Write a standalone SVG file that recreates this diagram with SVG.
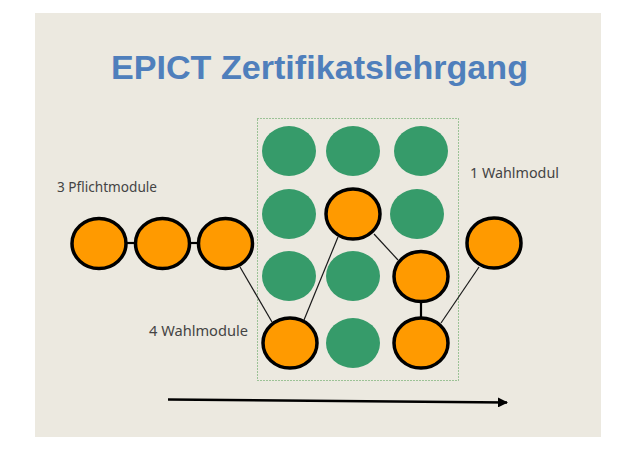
<svg xmlns="http://www.w3.org/2000/svg" width="638" height="451" viewBox="0 0 638 451">
<defs>
<style>
.bg{fill:#ffffff}
.panel{fill:#ECE9E0}
.title{font-family:"Liberation Sans",Arial,sans-serif;font-weight:bold;font-size:34px;fill:#4F7FBC}
.lbl{font-family:"Noto Sans","DejaVu Sans",sans-serif;font-size:13.5px;fill:#444444}
.g{fill:#369B6A}
.o{fill:#FF9A00;stroke:#000;stroke-width:3.5}
.ln{stroke:#1a1a1a;stroke-width:1.2;fill:none}
.lnk{stroke:#000;stroke-width:2.2;fill:none}
.box{fill:none;stroke:#4d9a4d;stroke-width:1;stroke-dasharray:1 2}
</style>
<marker id="ah" viewBox="0 0 10 10" refX="9" refY="5" markerWidth="4" markerHeight="4" orient="auto" markerUnits="strokeWidth">
<path d="M0,0 L10,5 L0,10 Z" fill="#000"/>
</marker>
</defs>
<rect class="bg" x="0" y="0" width="638" height="451"/>
<rect class="panel" x="35" y="13" width="566" height="424"/>
<text class="title" x="111" y="79" textLength="417" lengthAdjust="spacingAndGlyphs">EPICT Zertifikatslehrgang</text>
<rect class="box" x="257.5" y="118.5" width="201" height="262"/>
<text class="lbl" x="57" y="192" textLength="100" lengthAdjust="spacingAndGlyphs">3 Pflichtmodule</text>
<text class="lbl" x="470" y="178" textLength="89" lengthAdjust="spacingAndGlyphs">1 Wahlmodul</text>
<text class="lbl" x="149" y="336" textLength="99" lengthAdjust="spacingAndGlyphs">4 Wahlmodule</text>
<g id="connectors">
<line class="lnk" x1="126" y1="243" x2="135" y2="243"/>
<line class="lnk" x1="190" y1="243" x2="198" y2="243"/>
<line class="ln" x1="240" y1="267" x2="272" y2="322"/>
<line class="ln" x1="304" y1="320" x2="338" y2="237"/>
<line class="ln" x1="374" y1="234" x2="398" y2="260"/>
<line class="lnk" x1="421" y1="302" x2="421" y2="318"/>
<line class="ln" x1="441" y1="323" x2="479" y2="267"/>
<line x1="168" y1="399.5" x2="507" y2="402.5" stroke="#000" stroke-width="2.5" marker-end="url(#ah)"/>
</g>
<g id="grid-green">
<ellipse class="g" cx="289" cy="151" rx="27" ry="25"/>
<ellipse class="g" cx="353" cy="151" rx="27" ry="25"/>
<ellipse class="g" cx="421" cy="151" rx="27" ry="25"/>
<ellipse class="g" cx="289" cy="214" rx="27" ry="25"/>
<ellipse class="g" cx="417" cy="214" rx="27" ry="25"/>
<ellipse class="g" cx="289" cy="276" rx="27" ry="25"/>
<ellipse class="g" cx="353" cy="276" rx="27" ry="25"/>
<ellipse class="g" cx="353" cy="343" rx="27" ry="25"/>
</g>
<g id="p1"><ellipse class="o" cx="99" cy="243.5" rx="27" ry="25"/></g>
<g id="p2"><ellipse class="o" cx="162.5" cy="243.5" rx="27" ry="25"/></g>
<g id="p3"><ellipse class="o" cx="225.5" cy="243.5" rx="27" ry="25"/></g>
<g id="w1"><ellipse class="o" cx="290" cy="343" rx="27" ry="25"/></g>
<g id="w2"><ellipse class="o" cx="353" cy="214" rx="27" ry="25"/></g>
<g id="w3"><ellipse class="o" cx="421" cy="276.5" rx="27" ry="25"/></g>
<g id="w4"><ellipse class="o" cx="421" cy="343" rx="27" ry="25"/></g>
<g id="e1"><ellipse class="o" cx="494" cy="243" rx="27" ry="25"/></g>
</svg>
